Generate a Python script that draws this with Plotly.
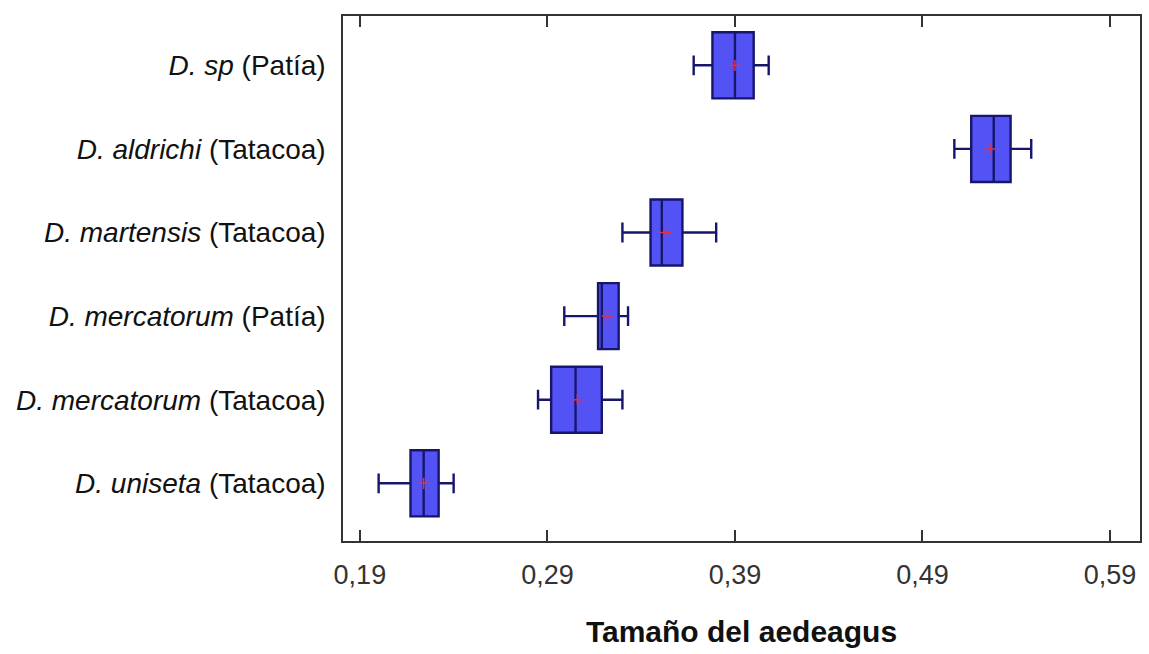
import plotly.graph_objects as go

# Species / locality labels (top to bottom)
species = [
    "<i>D. sp</i> (Patía)",
    "<i>D. aldrichi</i> (Tatacoa)",
    "<i>D. martensis</i> (Tatacoa)",
    "<i>D. mercatorum</i> (Patía)",
    "<i>D. mercatorum</i> (Tatacoa)",
    "<i>D. uniseta</i> (Tatacoa)",
]

# Box statistics of aedeagus size per species
lower_whisker = [0.368, 0.507, 0.330, 0.299, 0.285, 0.200]
q1 = [0.378, 0.516, 0.345, 0.317, 0.292, 0.217]
median = [0.390, 0.528, 0.351, 0.319, 0.305, 0.224]
q3 = [0.400, 0.537, 0.362, 0.328, 0.319, 0.232]
upper_whisker = [0.408, 0.548, 0.380, 0.333, 0.330, 0.240]
mean = [0.390, 0.526, 0.353, 0.322, 0.306, 0.224]

x_ticks = [0.19, 0.29, 0.39, 0.49, 0.59]

fig = go.Figure()

fig.add_trace(go.Box(
    orientation="h",
    y=species,
    q1=q1,
    median=median,
    q3=q3,
    lowerfence=lower_whisker,
    upperfence=upper_whisker,
    boxpoints=False,
    width=0.79,
    whiskerwidth=0.3,
    fillcolor="#5353f5",
    line=dict(color="#16166b", width=2.4),
    hoverinfo="skip",
    showlegend=False,
))

# Mean markers
fig.add_trace(go.Scatter(
    x=mean,
    y=species,
    mode="markers",
    marker=dict(symbol="cross-thin", size=8, line=dict(color="#e0304a", width=1.5)),
    hoverinfo="skip",
    showlegend=False,
))

fig.update_layout(
    width=1149,
    height=654,
    margin=dict(l=343, r=7, t=16, b=113),
    paper_bgcolor="white",
    plot_bgcolor="white",
    separators=",.",
    font=dict(family="Liberation Sans, Arial, sans-serif", color="#111"),
)

fig.update_xaxes(
    range=[0.181, 0.606],
    tickvals=x_ticks,
    tickformat=".2f",
    ticks="inside",
    ticklen=11,
    tickwidth=1.5,
    tickcolor="#333",
    showline=True,
    linecolor="#333",
    linewidth=1.5,
    mirror="ticks",
    showgrid=False,
    zeroline=False,
    tickfont=dict(size=27, color="#333"),
    ticklabelstandoff=9,
    title=dict(
        text="<b>Tamaño del aedeagus</b>",
        font=dict(size=30, color="#111"),
        standoff=32,
    ),
)

fig.update_yaxes(
    type="category",
    categoryorder="array",
    categoryarray=species,
    range=[5.69, -0.59],
    showline=True,
    linecolor="#333",
    linewidth=1.5,
    mirror=True,
    ticks="",
    showgrid=False,
    zeroline=False,
    tickfont=dict(size=28, color="#111"),
    ticklabelstandoff=10,
)

fig.write_html("out.html")
